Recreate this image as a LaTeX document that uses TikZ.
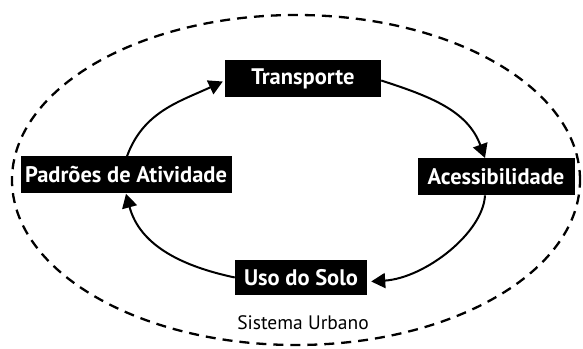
\documentclass[tikz,border=0pt]{standalone}
\usepackage{fontspec}
\setmainfont{PT Sans}
\usetikzlibrary{arrows.meta}
\tikzset{
  box/.style={fill=black, text=white, font=\bfseries\fontsize{22.5}{26}\selectfont, minimum height=37pt, inner sep=0pt, anchor=center},
  flow/.style={line width=2pt, -{Triangle[length=14pt,width=15pt]}},
}
\begin{document}
\begin{tikzpicture}[x=1pt,y=1pt]
\useasboundingbox (0,0) rectangle (583,348);
\draw[line width=2.3pt, dash pattern=on 10pt off 7pt] (296,168) ellipse [x radius=284, y radius=165];
\node[box, minimum width=156pt] (T) at (303,269.5) {Transporte};
\node[box, minimum width=211pt] (P) at (126,173) {Padrões de Atividade};
\node[box, minimum width=157pt] (A) at (496,171.3) {Acessibilidade};
\node[box, minimum width=132pt, minimum height=35pt] (U) at (301,70.5) {Uso do Solo};
\node[font=\fontsize{19.5}{23}\selectfont] (S) at (303,25) {Sistema Urbano};
\coordinate (a2) at (483,115);
\coordinate (a3) at (425,70);
\draw[flow] ([yshift=-2pt]T.east) to[out=-18, in=110] ([xshift=-11pt]A.north);
\draw[flow] ([xshift=-11pt]A.south) .. controls (a2) and (a3) .. ([xshift=4pt,yshift=-4pt]U.east);
\draw[flow] (U.west) to[out=168, in=-75] (P.south);
\draw[flow] ([xshift=1pt]P.north) to[out=70, in=205] ([xshift=-2pt,yshift=-3pt]T.west);
\end{tikzpicture}
\end{document}
